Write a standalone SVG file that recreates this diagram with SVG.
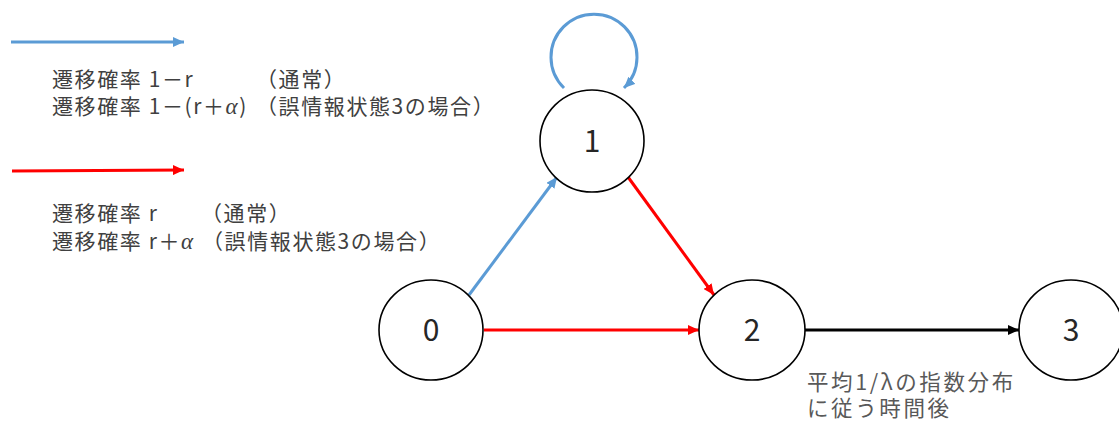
<svg xmlns="http://www.w3.org/2000/svg" width="1119" height="421" viewBox="0 0 1119 421">
<style>
.node{fill:#fff;stroke:#000;stroke-width:1.6}
.nl{font-family:"Noto Sans CJK JP","Noto Sans",sans-serif;font-size:30px;fill:#262626;text-anchor:middle}
.lg{font-family:"Noto Sans CJK JP","Noto Sans",sans-serif;font-size:21px;fill:#404040;letter-spacing:1.6px}
.note{font-family:"Noto Sans CJK JP","Noto Sans",sans-serif;font-size:21.5px;fill:#595959;letter-spacing:2.6px}
.al{font-family:"Liberation Serif",serif;font-style:italic;font-size:23px}
.blue{stroke:#5B9BD5;stroke-width:3;fill:none}
.red{stroke:#FF0000;stroke-width:3;fill:none}
.blk{stroke:#000;stroke-width:3;fill:none}
</style>
<defs>
<marker id="mb" markerUnits="userSpaceOnUse" markerWidth="12" markerHeight="10" refX="11" refY="5" orient="auto"><path d="M0,0 L11,5 L0,10 z" fill="#5B9BD5"/></marker>
<marker id="mr" markerUnits="userSpaceOnUse" markerWidth="12" markerHeight="10" refX="11" refY="5" orient="auto"><path d="M0,0 L11,5 L0,10 z" fill="#FF0000"/></marker>
<marker id="mk" markerUnits="userSpaceOnUse" markerWidth="12" markerHeight="10" refX="11" refY="5" orient="auto"><path d="M0,0 L11,5 L0,10 z" fill="#000"/></marker>
</defs>
<g id="legend">
<line class="blue" x1="11" y1="42" x2="184" y2="42" marker-end="url(#mb)"/>
<text class="lg" x="52" y="87">遷移確率 1－r</text>
<text class="lg" x="256" y="87">（通常）</text>
<text class="lg" x="52" y="114">遷移確率 1－(r＋<tspan class="al">α</tspan>)</text>
<text class="lg" x="256" y="114">（誤情報状態3の場合）</text>
<line class="red" x1="12" y1="171" x2="184" y2="170" marker-end="url(#mr)"/>
<text class="lg" x="52" y="221">遷移確率 r</text>
<text class="lg" x="201" y="221">（通常）</text>
<text class="lg" x="52" y="249">遷移確率 r＋<tspan class="al">α</tspan></text>
<text class="lg" x="202" y="249">（誤情報状態3の場合）</text>
</g>
<g id="connectors">
<path class="blue" d="M564,88 A43,43 0 1 1 624,88" marker-end="url(#mb)"/>
<line class="blue" x1="469" y1="295" x2="557" y2="177" marker-end="url(#mb)"/>
<line class="red" x1="628" y1="177" x2="714" y2="295" marker-end="url(#mr)"/>
<line class="red" x1="484" y1="330" x2="699" y2="330" marker-end="url(#mr)"/>
<line class="blk" x1="805" y1="330" x2="1019" y2="330" marker-end="url(#mk)"/>
</g>
<g id="node0"><ellipse class="node" cx="431" cy="330" rx="52" ry="50"/><text class="nl" x="431" y="341">0</text></g>
<g id="node1"><ellipse class="node" cx="592" cy="141" rx="52" ry="51"/><text class="nl" x="592" y="152">1</text></g>
<g id="node2"><ellipse class="node" cx="752" cy="330" rx="53" ry="50"/><text class="nl" x="752" y="341">2</text></g>
<g id="node3"><ellipse class="node" cx="1071" cy="330" rx="52" ry="50"/><text class="nl" x="1071" y="341">3</text></g>
<g id="note">
<text class="note" x="807" y="390">平均1/λの指数分布</text>
<text class="note" x="807" y="416">に従う時間後</text>
</g>
</svg>
